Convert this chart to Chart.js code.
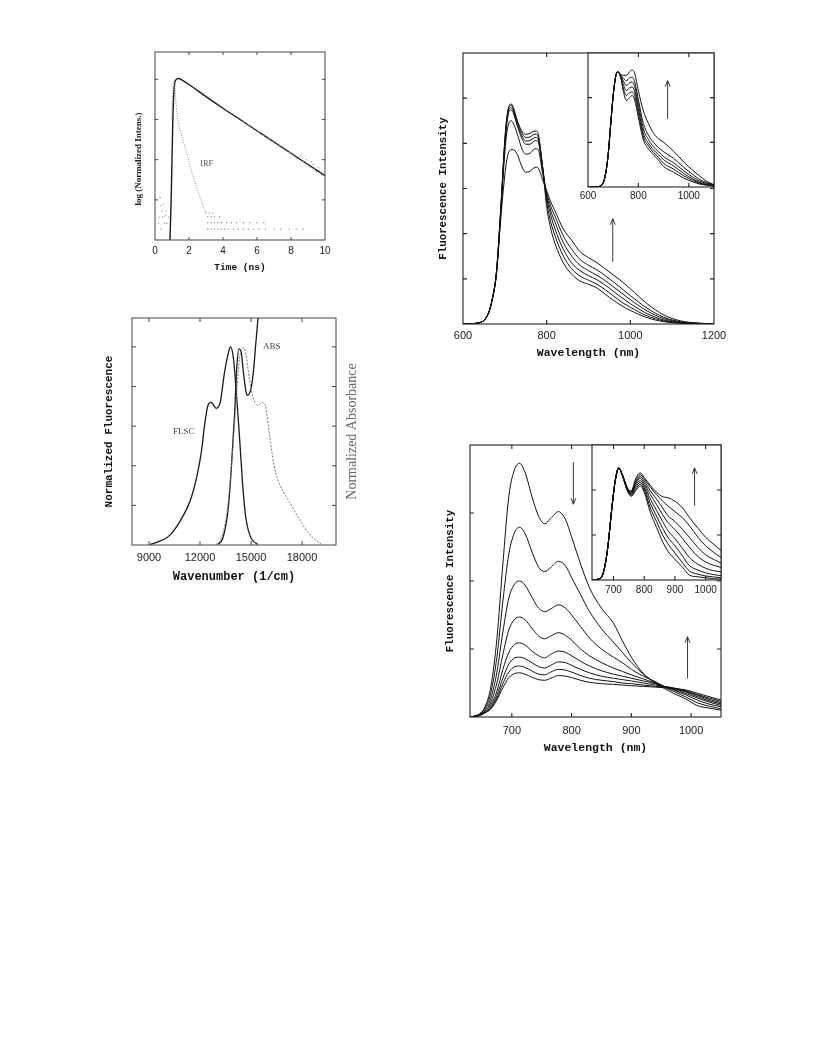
<!DOCTYPE html>
<html>
<head>
<meta charset="utf-8">
<script src="https://cdn.jsdelivr.net/npm/chart.js@4.4.1/dist/chart.umd.min.js"></script>
<style>
  html, body { margin: 0; padding: 0; background: #fff; }
  body { width: 816px; height: 1056px; position: relative; overflow: hidden; }
  canvas { position: absolute; }
</style>
</head>
<body>
<canvas id="decay"></canvas>
<canvas id="spectra"></canvas>
<canvas id="tempMain"></canvas>
<canvas id="tempInset"></canvas>
<canvas id="concMain"></canvas>
<canvas id="concInset"></canvas>
<script>
// ---- panel A: fluorescence decay (log scale values) ----
const decayT   = [0.88, 0.95, 1.0, 1.05, 1.1, 1.15, 1.2, 1.3, 1.4, 1.6, 2.0, 3, 4, 5, 6, 7, 8, 9, 10];
const decayLog = [0, 1.0, 2.0, 3.0, 3.6, 3.88, 3.97, 4.01, 4.02, 3.98, 3.87, 3.57, 3.28, 3.0, 2.72, 2.44, 2.16, 1.88, 1.6];
const noiseT   = [4.6, 4.9, 5.2, 5.5, 5.8, 6.1, 6.4, 6.7, 7.0, 7.3, 7.6, 7.9, 8.1, 8.3, 8.5, 8.7, 8.9, 9.1, 9.3, 9.5, 9.6, 9.7, 9.8, 9.9, 8.6, 9.2, 9.4, 9.0];
const noiseLog = [3.15, 3.05, 2.96, 2.87, 2.76, 2.7, 2.6, 2.52, 2.46, 2.34, 2.3, 2.18, 2.15, 2.02, 2.07, 1.96, 2.0, 1.82, 1.88, 1.7, 1.8, 1.74, 1.62, 1.66, 2.12, 1.95, 1.78, 1.9];
const irfT     = [0.98, 1.04, 1.1, 1.16, 1.25, 1.37, 1.5, 1.76, 2.0, 2.25, 2.45, 2.64, 2.84, 3.0];
const irfLog   = [3.0, 3.7, 3.95, 3.85, 3.35, 2.94, 2.7, 2.32, 1.95, 1.57, 1.3, 1.07, 0.83, 0.7];
const irfPreT   = [0.2, 0.25, 0.3, 0.35, 0.4, 0.45, 0.5, 0.55, 0.6, 0.7, 0.8, 0.35, 0.65];
const irfPreLog = [0.42, 0.57, 1.05, 0.85, 0.72, 0.57, 0.9, 0.42, 0.6, 0.42, 0.57, 0.27, 0.72];
const irfFloorLevels = [0.67, 0.58, 0.43, 0.27];
const irfFloorT = [
  [3.0, 3.2, 3.4],
  [3.1, 3.3, 3.5, 3.8],
  [3.1, 3.3, 3.5, 3.7, 3.9, 4.2, 4.5, 4.8, 5.2, 5.6, 6.0, 6.4],
  [3.1, 3.3, 3.5, 3.7, 3.9, 4.1, 4.3, 4.6, 4.9, 5.2, 5.5, 5.8, 6.1, 6.5, 7.0, 7.4, 7.9, 8.3, 8.7]
];

// ---- panel B: fluorescence / absorbance vs wavenumber ----
const flscWn  = [9060, 9450, 10230, 10810, 11400, 11790, 12080, 12270, 12470, 12660, 12950, 13190, 13440, 13700, 13800, 13970, 14120, 14280, 14420, 14550, 14710, 15000, 15400];
const flscVal = [0.003, 0.013, 0.05, 0.118, 0.218, 0.336, 0.47, 0.605, 0.706, 0.72, 0.69, 0.72, 0.87, 0.98, 1.0, 0.94, 0.79, 0.6, 0.42, 0.26, 0.13, 0.035, 0.003];
const absWn   = [13050, 13340, 13640, 13830, 14030, 14160, 14280, 14420, 14550, 14710, 14800, 15000, 15140, 15290, 15410, 15550];
const absVal  = [0.003, 0.034, 0.17, 0.37, 0.655, 0.89, 0.99, 0.975, 0.874, 0.773, 0.756, 0.79, 0.874, 1.025, 1.143, 1.3];
const mirWn   = [12950, 13250, 13640, 13930, 14160, 14320, 14470, 14570, 14710, 14900, 15140, 15390, 15680, 15880, 16070, 16360, 16750, 17240, 17820, 18310, 18800, 19150];
const mirVal  = [0.003, 0.034, 0.2, 0.49, 0.77, 0.94, 0.99, 0.995, 0.96, 0.84, 0.74, 0.705, 0.72, 0.69, 0.57, 0.40, 0.294, 0.22, 0.134, 0.067, 0.025, 0.003];

// ---- panel C: emission spectra (main) ----
const wlC = [600, 640, 660, 670, 680, 690, 700, 705, 710, 715, 720, 730, 740, 750, 760, 770, 775, 780, 790, 800, 810, 820, 840, 860, 880, 900, 920, 940, 960, 980, 1000, 1040, 1080, 1120, 1160, 1200];
const specC1 = [0, 0.03, 0.22, 0.55, 1.15, 2.5, 4.1, 4.6, 4.83, 4.87, 4.8, 4.5, 4.28, 4.2, 4.22, 4.27, 4.27, 4.2, 3.5, 2.6, 2.1, 1.78, 1.35, 1.1, 0.95, 0.88, 0.8, 0.66, 0.52, 0.4, 0.3, 0.14, 0.05, 0.02, 0.01, 0];
const specC2 = [0, 0.03, 0.22, 0.55, 1.15, 2.5, 4.05, 4.55, 4.8, 4.84, 4.77, 4.48, 4.24, 4.13, 4.14, 4.2, 4.2, 4.14, 3.5, 2.7, 2.25, 1.95, 1.5, 1.22, 1.06, 0.97, 0.88, 0.76, 0.62, 0.48, 0.37, 0.18, 0.07, 0.02, 0.01, 0];
const specC3 = [0, 0.03, 0.22, 0.55, 1.15, 2.5, 4.0, 4.5, 4.75, 4.79, 4.72, 4.42, 4.18, 4.05, 4.06, 4.12, 4.13, 4.08, 3.5, 2.8, 2.4, 2.1, 1.65, 1.35, 1.18, 1.07, 0.98, 0.86, 0.72, 0.58, 0.45, 0.23, 0.09, 0.03, 0.01, 0];
const specC4 = [0, 0.03, 0.22, 0.55, 1.15, 2.45, 3.95, 4.45, 4.7, 4.74, 4.68, 4.38, 4.12, 3.98, 3.98, 4.05, 4.06, 4.02, 3.45, 2.85, 2.5, 2.25, 1.8, 1.5, 1.3, 1.18, 1.08, 0.96, 0.82, 0.68, 0.54, 0.29, 0.12, 0.04, 0.01, 0];
const specC5 = [0, 0.03, 0.22, 0.55, 1.12, 2.4, 3.8, 4.25, 4.45, 4.5, 4.45, 4.2, 3.9, 3.76, 3.78, 3.87, 3.88, 3.86, 3.35, 2.9, 2.6, 2.38, 1.95, 1.65, 1.43, 1.3, 1.2, 1.07, 0.93, 0.78, 0.63, 0.35, 0.15, 0.05, 0.02, 0];
const specC6 = [0, 0.03, 0.22, 0.55, 1.1, 2.3, 3.3, 3.65, 3.82, 3.86, 3.86, 3.75, 3.5, 3.36, 3.38, 3.46, 3.47, 3.45, 3.2, 2.95, 2.7, 2.5, 2.1, 1.85, 1.6, 1.47, 1.36, 1.22, 1.08, 0.94, 0.78, 0.45, 0.2, 0.07, 0.02, 0];

// ---- panel C inset: normalized spectra ----
const wlCi = [600, 640, 660, 670, 680, 690, 700, 710, 718, 730, 740, 752, 765, 775, 785, 800, 820, 840, 860, 880, 900, 940, 980, 1000, 1040, 1070, 1100];
const riseCi = [0, 0.01, 0.09, 0.3, 0.72, 1.4, 2.05, 2.48, 2.58];
const specCi1 = [...riseCi, 2.45, 2.15, 1.94, 2.0, 2.05, 1.95, 1.55, 1.05, 0.85, 0.72, 0.6, 0.46, 0.33, 0.2, 0.15, 0.07, 0.04, 0.02];
const specCi2 = [...riseCi, 2.46, 2.22, 2.05, 2.11, 2.13, 2.05, 1.65, 1.12, 0.92, 0.77, 0.66, 0.53, 0.4, 0.25, 0.19, 0.09, 0.05, 0.02];
const specCi3 = [...riseCi, 2.47, 2.3, 2.16, 2.22, 2.24, 2.15, 1.75, 1.2, 0.98, 0.83, 0.72, 0.61, 0.47, 0.3, 0.23, 0.11, 0.06, 0.03];
const specCi4 = [...riseCi, 2.48, 2.38, 2.27, 2.33, 2.35, 2.25, 1.85, 1.3, 1.06, 0.9, 0.79, 0.68, 0.54, 0.36, 0.28, 0.14, 0.08, 0.04];
const specCi5 = [...riseCi, 2.5, 2.44, 2.38, 2.44, 2.46, 2.36, 1.95, 1.42, 1.16, 1.0, 0.88, 0.79, 0.64, 0.44, 0.35, 0.18, 0.1, 0.05];
const specCi6 = [...riseCi, 2.52, 2.5, 2.5, 2.58, 2.62, 2.55, 2.15, 1.7, 1.42, 1.2, 1.08, 1.0, 0.8, 0.56, 0.45, 0.26, 0.13, 0.05];

// ---- panel D: emission spectra (main) ----
const wlD = [630, 645, 655, 665, 675, 685, 695, 705, 713, 722, 735, 745, 755, 765, 778, 790, 800, 815, 830, 850, 870, 885, 900, 920, 940, 955, 970, 990, 1010, 1030, 1050];
const specD1 = [0, 0.04, 0.15, 0.45, 1.15, 2.25, 3.25, 3.65, 3.73, 3.6, 3.2, 2.95, 2.84, 2.92, 3.02, 2.9, 2.65, 2.25, 1.9, 1.6, 1.38, 1.12, 0.88, 0.64, 0.5, 0.42, 0.35, 0.27, 0.17, 0.13, 0.1];
const specD2 = [0, 0.04, 0.13, 0.36, 0.88, 1.7, 2.4, 2.72, 2.79, 2.7, 2.4, 2.2, 2.14, 2.2, 2.29, 2.22, 2.05, 1.8, 1.55, 1.3, 1.1, 0.95, 0.8, 0.63, 0.51, 0.44, 0.38, 0.3, 0.21, 0.16, 0.12];
const specD3 = [0, 0.03, 0.11, 0.28, 0.66, 1.25, 1.75, 1.96, 2.0, 1.94, 1.74, 1.6, 1.55, 1.59, 1.65, 1.6, 1.5, 1.33, 1.16, 1.0, 0.88, 0.8, 0.7, 0.6, 0.52, 0.45, 0.4, 0.33, 0.25, 0.19, 0.15];
const specD4 = [0, 0.03, 0.09, 0.22, 0.5, 0.92, 1.28, 1.44, 1.47, 1.43, 1.29, 1.19, 1.15, 1.19, 1.24, 1.2, 1.13, 1.0, 0.9, 0.8, 0.72, 0.67, 0.62, 0.56, 0.5, 0.45, 0.41, 0.35, 0.28, 0.22, 0.17];
const specD5 = [0, 0.02, 0.08, 0.18, 0.38, 0.7, 0.95, 1.07, 1.09, 1.06, 0.96, 0.9, 0.87, 0.92, 0.97, 0.95, 0.9, 0.82, 0.75, 0.68, 0.63, 0.6, 0.57, 0.53, 0.49, 0.45, 0.42, 0.37, 0.3, 0.24, 0.19];
const specD6 = [0, 0.02, 0.07, 0.15, 0.32, 0.57, 0.78, 0.87, 0.88, 0.86, 0.79, 0.74, 0.72, 0.76, 0.81, 0.8, 0.76, 0.7, 0.65, 0.6, 0.57, 0.55, 0.53, 0.5, 0.47, 0.45, 0.43, 0.38, 0.32, 0.26, 0.21];
const specD7 = [0, 0.02, 0.06, 0.13, 0.28, 0.49, 0.66, 0.74, 0.75, 0.73, 0.67, 0.63, 0.62, 0.66, 0.7, 0.69, 0.66, 0.61, 0.57, 0.54, 0.52, 0.5, 0.49, 0.47, 0.45, 0.44, 0.42, 0.39, 0.33, 0.28, 0.23];
const specD8 = [0, 0.02, 0.06, 0.12, 0.25, 0.43, 0.58, 0.64, 0.65, 0.63, 0.58, 0.55, 0.54, 0.57, 0.61, 0.6, 0.58, 0.54, 0.51, 0.49, 0.48, 0.47, 0.46, 0.45, 0.44, 0.43, 0.42, 0.4, 0.35, 0.3, 0.25];

// ---- panel D inset: normalized spectra ----
const wlDi = [630, 650, 665, 680, 695, 705, 717, 730, 745, 758, 772, 787, 800, 820, 840, 860, 877, 900, 925, 947, 975, 1000, 1025, 1050];
const riseDi = [0, 0.02, 0.12, 0.65, 1.62, 2.18, 2.49];
const specDi1 = [...riseDi, 2.3, 1.98, 1.86, 1.98, 2.09, 1.95, 1.5, 1.17, 0.85, 0.64, 0.46, 0.28, 0.11, 0.07, 0.05, 0.03, 0.02];
const specDi2 = [...riseDi, 2.3, 1.99, 1.88, 2.02, 2.13, 2.0, 1.6, 1.3, 1.0, 0.81, 0.6, 0.38, 0.2, 0.13, 0.09, 0.07, 0.05];
const specDi3 = [...riseDi, 2.3, 2.0, 1.9, 2.06, 2.17, 2.05, 1.7, 1.42, 1.15, 0.95, 0.76, 0.53, 0.32, 0.22, 0.16, 0.12, 0.1];
const specDi4 = [...riseDi, 2.31, 2.01, 1.92, 2.1, 2.21, 2.1, 1.8, 1.55, 1.3, 1.1, 0.92, 0.7, 0.5, 0.35, 0.26, 0.21, 0.18];
const specDi5 = [...riseDi, 2.31, 2.02, 1.94, 2.14, 2.26, 2.15, 1.9, 1.68, 1.45, 1.28, 1.12, 0.92, 0.73, 0.52, 0.4, 0.33, 0.28];
const specDi6 = [...riseDi, 2.32, 2.03, 1.95, 2.17, 2.3, 2.2, 1.98, 1.8, 1.6, 1.43, 1.3, 1.12, 0.95, 0.72, 0.56, 0.46, 0.38];
const specDi7 = [...riseDi, 2.32, 2.04, 1.97, 2.21, 2.34, 2.25, 2.06, 1.9, 1.75, 1.65, 1.52, 1.38, 1.21, 0.95, 0.76, 0.62, 0.5];
const specDi8 = [...riseDi, 2.33, 2.05, 1.98, 2.25, 2.38, 2.28, 2.1, 1.95, 1.85, 1.83, 1.75, 1.6, 1.39, 1.15, 0.95, 0.8, 0.66];

// fonts
const SANS = '"Liberation Sans", Arial, sans-serif';
const MONO = '"Liberation Mono", "Courier New", monospace';
const SERIF = '"Liberation Serif", "Times New Roman", serif';

// frame, inward ticks, arrows, notes (all through the chart scales)
const paperFrame = {
  id: 'paperFrame',
  beforeDraw(chart, args, o) {
    if (!o.fill) return;
    const { ctx, chartArea: a } = chart;
    ctx.save();
    ctx.fillStyle = '#fff';
    ctx.fillRect(a.left, a.top, a.right - a.left, a.bottom - a.top);
    ctx.restore();
  },
  afterDraw(chart, args, o) {
    const { ctx, chartArea: a, scales: { x, y } } = chart;
    const t = o.tick || 4;
    ctx.save();
    ctx.strokeStyle = o.color || '#222';
    ctx.lineWidth = o.lineWidth || 1.1;
    ctx.strokeRect(a.left, a.top, a.right - a.left, a.bottom - a.top);
    ctx.beginPath();
    x.ticks.forEach(tk => {
      const px = x.getPixelForValue(tk.value);
      if (px <= a.left + 1 || px >= a.right - 1) return;
      ctx.moveTo(px, a.bottom); ctx.lineTo(px, a.bottom - t);
      ctx.moveTo(px, a.top); ctx.lineTo(px, a.top + t);
    });
    y.ticks.forEach(tk => {
      const py = y.getPixelForValue(tk.value);
      if (py <= a.top + 1 || py >= a.bottom - 1) return;
      ctx.moveTo(a.left, py); ctx.lineTo(a.left + t, py);
      ctx.moveTo(a.right, py); ctx.lineTo(a.right - t, py);
    });
    ctx.stroke();

    ctx.lineWidth = 0.9;
    (o.arrows || []).forEach(ar => {
      const px = x.getPixelForValue(ar.x);
      const p1 = y.getPixelForValue(ar.from), p2 = y.getPixelForValue(ar.to);
      const d = p2 > p1 ? 1 : -1;
      ctx.beginPath();
      ctx.moveTo(px, p1); ctx.lineTo(px, p2);
      ctx.moveTo(px - 2.5, p2 - d * 6); ctx.lineTo(px, p2); ctx.lineTo(px + 2.5, p2 - d * 6);
      ctx.stroke();
    });

    (o.notes || []).forEach(n => {
      ctx.font = n.font;
      ctx.fillStyle = n.color || '#333';
      ctx.textAlign = 'left';
      ctx.textBaseline = 'middle';
      ctx.fillText(n.text, x.getPixelForValue(n.x), y.getPixelForValue(n.y));
    });

    (o.sideTitles || []).forEach(s => {
      ctx.save();
      const cx = s.side === 'right' ? a.right + s.dx : a.left - s.dx;
      ctx.translate(cx, (a.top + a.bottom) / 2 + (s.dy || 0));
      ctx.rotate(-Math.PI / 2);
      ctx.font = s.font;
      ctx.fillStyle = s.color || '#111';
      ctx.textAlign = 'center';
      ctx.textBaseline = 'middle';
      ctx.fillText(s.text, 0, 0);
      ctx.restore();
    });
    ctx.restore();
  }
};

function place(id, box, pad) {
  const c = document.getElementById(id);
  const w = box.r - box.l + pad.l + pad.r, h = box.b - box.t + pad.t + pad.b;
  c.width = w; c.height = h;
  c.style.width = w + 'px'; c.style.height = h + 'px';
  c.style.left = (box.l - pad.l) + 'px';
  c.style.top = (box.t - pad.t) + 'px';
  return c;
}

function fixSize(prop, size) {
  return s => {
    s[prop] = size;
    s.paddingLeft = s.paddingRight = s.paddingTop = s.paddingBottom = 0;
  };
}

function useTicks(values) {
  return s => { s.ticks = values.map(v => ({ value: v })); };
}

function line(xs, ys, extra) {
  return Object.assign({
    data: xs.map((x, i) => ({ x, y: ys[i] })),
    borderColor: '#111', borderWidth: 1, pointRadius: 0, fill: false,
    cubicInterpolationMode: 'monotone'
  }, extra || {});
}

function dots(xs, ys, color) {
  return {
    data: xs.map((x, i) => ({ x, y: ys[i] })),
    showLine: false, pointRadius: 0.7, pointBorderWidth: 0,
    pointBackgroundColor: color, borderColor: color
  };
}

function panel(id, box, pad, o) {
  const canvas = place(id, box, pad);
  return new Chart(canvas, {
    type: 'line',
    data: { datasets: o.datasets },
    options: {
      responsive: false, animation: false, devicePixelRatio: 1,
      layout: { padding: { top: pad.t, right: pad.r, left: 0, bottom: 0 } },
      plugins: { legend: { display: false }, tooltip: { enabled: false }, paperFrame: o.frame || {} },
      scales: {
        x: {
          type: 'linear', min: o.xMin, max: o.xMax,
          afterBuildTicks: useTicks(o.xTicks),
          afterFit: fixSize('height', pad.b),
          grid: { display: false, drawTicks: false },
          border: { display: false },
          ticks: {
            padding: o.xPad, color: '#222', autoSkip: false, maxRotation: 0,
            font: { family: SANS, size: o.xFont }, callback: v => String(v)
          },
          title: o.xTitle ? {
            display: true, text: o.xTitle, color: '#111',
            font: { family: MONO, size: o.xTitleSize, weight: 'bold' },
            padding: { top: 0, bottom: o.xTitlePad }
          } : { display: false }
        },
        y: {
          type: 'linear', min: o.yMin || 0, max: o.yMax,
          afterBuildTicks: useTicks(o.yTicks),
          afterFit: fixSize('width', pad.l),
          grid: { display: false, drawTicks: false },
          border: { display: false },
          ticks: { display: false },
          title: o.yTitle ? {
            display: true, text: o.yTitle, color: '#111',
            font: { family: MONO, size: o.yTitleSize, weight: 'bold' },
            padding: { top: o.yTitlePad, bottom: 0 }
          } : { display: false }
        }
      }
    },
    plugins: [paperFrame]
  });
}

// panel A
const floorDatasets = irfFloorLevels.map((lv, i) => dots(irfFloorT[i], irfFloorT[i].map(() => lv), '#8a8a8a'));
panel('decay', { l: 155, t: 52, r: 325, b: 240 }, { l: 40, t: 5, r: 12, b: 40 }, {
  xMin: 0, xMax: 10, xTicks: [0, 2, 4, 6, 8, 10], xFont: 10, xPad: 5,
  xTitle: 'Time (ns)', xTitleSize: 9.5, xTitlePad: 7,
  yMax: 4.68, yTicks: [1, 2, 3, 4],
  datasets: [
    dots(noiseT, noiseLog, '#9a9a9a'),
    dots(irfPreT, irfPreLog, '#8a8a8a'),
    ...floorDatasets,
    line(irfT, irfLog, { borderColor: '#8a8a8a', borderWidth: 1, borderDash: [1, 1.5] }),
    line(decayT, decayLog, { borderColor: '#1a1a1a', borderWidth: 1.4 })
  ],
  frame: {
    color: '#444', lineWidth: 1, tick: 3,
    notes: [{ text: 'IRF', x: 2.65, y: 1.89, font: '8.5px ' + SERIF, color: '#555' }],
    sideTitles: [{ text: 'log (Normalized Intens.)', dx: 16, dy: 13, font: 'bold 9px ' + SERIF, color: '#222' }]
  }
});

// panel B
panel('spectra', { l: 132, t: 318, r: 336, b: 545 }, { l: 37, t: 5, r: 25, b: 45 }, {
  xMin: 8000, xMax: 20000, xTicks: [9000, 12000, 15000, 18000], xFont: 11, xPad: 6,
  xTitle: 'Wavenumber (1/cm)', xTitleSize: 12, xTitlePad: 6,
  yMax: 1.146, yTicks: [0.2, 0.4, 0.6, 0.8, 1.0],
  yTitle: 'Normalized Fluorescence', yTitleSize: 11, yTitlePad: 8,
  datasets: [
    line(mirWn, mirVal, { borderColor: '#777', borderWidth: 1, borderDash: [2, 1.5] }),
    line(absWn, absVal, { borderColor: '#1a1a1a', borderWidth: 1.3 }),
    line(flscWn, flscVal, { borderColor: '#1a1a1a', borderWidth: 1.3 })
  ],
  frame: {
    color: '#444', lineWidth: 1, tick: 4,
    notes: [
      { text: 'FLSC', x: 10411, y: 0.57, font: '9px ' + SERIF, color: '#444' },
      { text: 'ABS', x: 15703, y: 1.0, font: '9px ' + SERIF, color: '#444' }
    ],
    sideTitles: [{ text: 'Normalized Absorbance', side: 'right', dx: 16, font: '14px ' + SERIF, color: '#666' }]
  }
});

// panel C
panel('tempMain', { l: 463, t: 53, r: 714, b: 324 }, { l: 43, t: 5, r: 16, b: 42 }, {
  xMin: 600, xMax: 1200, xTicks: [600, 800, 1000, 1200], xFont: 11, xPad: 5,
  xTitle: 'Wavelength (nm)', xTitleSize: 11.5, xTitlePad: 6,
  yMax: 6, yTicks: [1, 2, 3, 4, 5],
  yTitle: 'Fluorescence Intensity', yTitleSize: 10.8, yTitlePad: 16.5,
  datasets: [specC1, specC2, specC3, specC4, specC5, specC6].map(v => line(wlC, v)),
  frame: { tick: 4, arrows: [{ x: 958, from: 1.38, to: 2.33 }] }
});

panel('tempInset', { l: 588, t: 53, r: 714, b: 187 }, { l: 12, t: 3, r: 8, b: 18 }, {
  xMin: 600, xMax: 1100, xTicks: [600, 800, 1000], xFont: 10, xPad: 3,
  yMax: 3, yTicks: [1, 2],
  datasets: [specCi1, specCi2, specCi3, specCi4, specCi5, specCi6].map(v => line(wlCi, v)),
  frame: { fill: true, tick: 4, arrows: [{ x: 916, from: 1.53, to: 2.38 }] }
});

// panel D
panel('concMain', { l: 470, t: 445, r: 721, b: 717 }, { l: 45, t: 5, r: 16, b: 45 }, {
  xMin: 630, xMax: 1050, xTicks: [700, 800, 900, 1000], xFont: 11, xPad: 7,
  xTitle: 'Wavelength (nm)', xTitleSize: 11.5, xTitlePad: 7,
  yMax: 4, yTicks: [1, 2, 3],
  yTitle: 'Fluorescence Intensity', yTitleSize: 10.8, yTitlePad: 18.5,
  datasets: [specD1, specD2, specD3, specD4, specD5, specD6, specD7, specD8].map(v => line(wlD, v)),
  frame: {
    tick: 4,
    arrows: [{ x: 803, from: 3.75, to: 3.13 }, { x: 994, from: 0.565, to: 1.18 }]
  }
});

panel('concInset', { l: 592, t: 445, r: 721, b: 580 }, { l: 12, t: 3, r: 8, b: 18 }, {
  xMin: 630, xMax: 1050, xTicks: [700, 800, 900, 1000], xFont: 10, xPad: 4,
  yMax: 3, yTicks: [1, 2],
  datasets: [specDi1, specDi2, specDi3, specDi4, specDi5, specDi6, specDi7, specDi8].map(v => line(wlDi, v)),
  frame: { fill: true, tick: 4, arrows: [{ x: 964, from: 1.65, to: 2.49 }] }
});
</script>
</body>
</html>
